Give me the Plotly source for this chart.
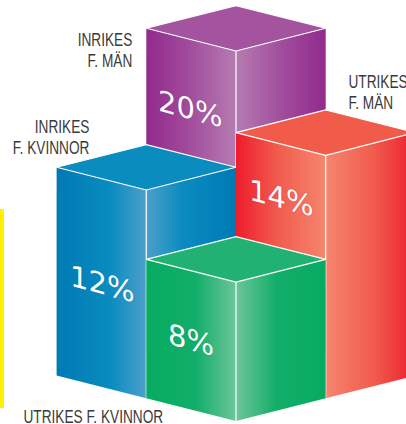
import json
import plotly.graph_objects as go

# --- data ---
categories = ["INRIKES F. MÄN", "UTRIKES F. MÄN", "INRIKES F. KVINNOR", "UTRIKES F. KVINNOR"]
labels_pct = [20, 14, 12, 8]
# the graphic's drawn heights, in percentage units (the 20 % block is drawn a little short)
drawn_height = [18.7, 14, 12, 8]
grid_col = [0, 1, -1, 0]
grid_row = [1, 0, 0, 0]

top_colors = ["#A4549E", "#F15B4A", "#0A8CBF", "#20B173"]
side_scales = [
    [[0, "#922A8D"], [0.45, "#A04A9B"], [1, "#B57CB1"]],
    [[0, "#ED1C2E"], [0.45, "#F15A4C"], [1, "#F6866F"]],
    [[0, "#0079B4"], [0.6, "#0A8CC0"], [1, "#4D9FCA"]],
    [[0, "#06AB62"], [0.55, "#12AE69"], [1, "#6DC59A"]],
]

# --- projection of the block grid onto the page ---
PX_PER_PCT = 17.36
ORIGIN = (236, 421)
STEP_X, STEP_Y = 89.7, 22.7


def front_base(i):
    return (ORIGIN[0] + grid_col[i] * STEP_X,
            ORIGIN[1] - (abs(grid_col[i]) + 2 * grid_row[i]) * STEP_Y)


fig = go.Figure()


def face(xs, ys, color=None, scale=None):
    kw = dict(x=xs, y=ys, mode="lines", fill="toself", line=dict(width=0),
              hoverinfo="skip", showlegend=False)
    if scale is not None:
        kw["fillgradient"] = dict(type="horizontal", colorscale=scale)
    else:
        kw["fillcolor"] = color
    fig.add_trace(go.Scatter(**kw))


for i in [0, 1, 2, 3]:
    fx, fy = front_base(i)
    h = drawn_height[i] * PX_PER_PCT
    top = fy - h
    lx, rx = fx - STEP_X, fx + STEP_X
    rev = [[1 - p, c] for p, c in reversed(side_scales[i])]
    face([lx, fx, fx, lx, lx], [fy - STEP_Y, fy, top, top - STEP_Y, fy - STEP_Y], scale=side_scales[i])
    face([fx, rx, rx, fx, fx], [fy, fy - STEP_Y, top - STEP_Y, top, fy], scale=rev)
    face([lx, fx, rx, fx, lx],
         [top - STEP_Y, top, top - STEP_Y, top - 2 * STEP_Y, top - STEP_Y], color=top_colors[i])
    # white edges: outline of the top face and the front corner
    fig.add_trace(go.Scatter(
        x=[lx, fx, rx, fx, lx, None, fx, fx],
        y=[top - STEP_Y, top, top - STEP_Y, top - 2 * STEP_Y, top - STEP_Y, None, top, fy],
        mode="lines", line=dict(color="white", width=1.2),
        hoverinfo="skip", showlegend=False))

pct_pos = [(190, 109), (281, 198), (102, 284), (191, 340)]
edge = ["#7E2080", "#D81E2C", "#0A7AB0", "#0A9A5A"]
annotations = []
transforms = []
for i, (x, y) in enumerate(pct_pos):
    annotations.append(dict(
        x=x, y=y, xref="x", yref="y", showarrow=False,
        text=f"{labels_pct[i]}%",
        font=dict(family="DejaVu Sans", size=29, color="white",
                  shadow=f"0 0 1px {edge[i]}"),
    ))
    transforms.append(f"translate({x},{y}) skewY(15) translate({-x},{-y})")

LABEL_SQUEEZE = 0.76
label_specs = [
    ("INRIKES", 133.5, 40, "right"), ("F. MÄN", 133.5, 61, "right"),
    ("INRIKES", 91, 127, "right"), ("F. KVINNOR", 91, 148, "right"),
    ("UTRIKES", 346.5, 82, "left"), ("F. MÄN", 346.5, 103, "left"),
    ("UTRIKES F. KVINNOR", 21.5, 416.5, "left"),
]
for txt, x, y, anchor in label_specs:
    annotations.append(dict(
        x=x, y=y, xref="x", yref="y", showarrow=False, text=txt,
        xanchor=anchor, yanchor="middle",
        font=dict(family="Liberation Sans", size=18, color="#3A3A3C"),
    ))
    transforms.append(f"translate({x},0) scale({LABEL_SQUEEZE},1) translate({-x},0)")

fig.update_layout(
    width=406, height=424, margin=dict(l=0, r=0, t=0, b=0),
    paper_bgcolor="white", plot_bgcolor="white",
    xaxis=dict(range=[0, 406], visible=False, fixedrange=True),
    yaxis=dict(range=[424, 0], visible=False, fixedrange=True),
    annotations=annotations,
    shapes=[dict(type="rect", xref="x", yref="y", x0=0, x1=4, y0=209, y1=408,
                 fillcolor="#FFF100", line=dict(width=0))],
)

post = """
document.body.style.margin = '0';
var tf = %s;
var gd = document.getElementById('{plot_id}');
gd.querySelectorAll('.annotation').forEach(function (a, i) {
  var g = a.querySelector('.annotation-text-g');
  if (g && tf[i]) { g.setAttribute('transform', tf[i]); }
});
""" % json.dumps(transforms)
fig.write_html("out.html", config={"displayModeBar": False}, post_script=post)
